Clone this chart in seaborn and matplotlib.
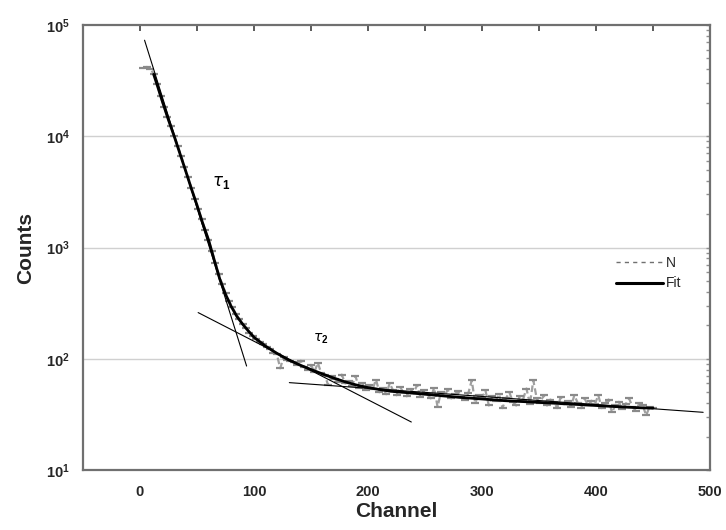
import numpy as np
import pandas as pd
import matplotlib
matplotlib.use("Agg")
import matplotlib.pyplot as plt
import seaborn as sns
from matplotlib.ticker import LogLocator, FixedLocator, NullFormatter
from matplotlib.lines import Line2D

# ---------------- data ----------------
data_channel = list(range(3, 451, 3))
data_counts = [
    41000, 42000, 40500, 36500, 29500, 23000, 18500, 15000, 12300, 10100,
    8200, 6700, 5300, 4300, 3450, 2750, 2200, 1800, 1450, 1180,
    930, 730, 580, 470, 390, 330, 290, 255, 228, 205,
    188, 172, 160, 150, 140, 136, 127, 122, 112, 110,
    82, 104, 98, 95, 93, 88, 96, 84, 80, 88,
    76, 92, 74, 72, 58, 70, 66, 62, 72, 60,
    63, 57, 70, 55, 60, 52, 58, 53, 65, 50,
    55, 48, 60, 52, 47, 56, 50, 46, 54, 49,
    58, 45, 52, 48, 44, 55, 37, 50, 46, 53,
    44, 48, 51, 45, 43, 49, 64, 40, 47, 44,
    52, 38, 46, 42, 48, 36, 44, 50, 41, 38,
    46, 43, 54, 39, 64, 44, 40, 47, 38, 43,
    41, 36, 45, 39, 42, 37, 47, 40, 36, 44,
    38, 42, 39, 47, 36, 40, 43, 33, 38, 41,
    35, 39, 44, 37, 34, 40, 38, 31, 37, 36,
]

fit_channel = [12, 15, 20, 25, 30, 35, 40, 45, 50, 55, 60, 65, 70, 75, 80, 85,
               90, 95, 100, 110, 120, 130, 140, 150, 160, 170, 180, 190, 200,
               220, 240, 260, 280, 300, 320, 340, 360, 380, 400, 420, 440, 450]
fit_counts = [36000, 29000, 20000, 14000, 10000, 7000, 4900, 3400, 2400, 1650,
              1180, 780, 520, 380, 295, 240, 205, 178, 156, 130, 112, 98, 88,
              80, 73, 67, 62, 58, 55, 51, 49, 47, 45, 43.5, 42, 41, 40, 39,
              38, 37, 36.2, 36]

tau1_channel = [4, 93.5]
tau1_counts = [73000, 86]
tau2_channel = [51, 238]
tau2_counts = [260, 27]
tau3_channel = [131, 494]
tau3_counts = [61, 33]

x_ticks = [0, 100, 200, 300, 400, 500]
x_label = "Channel"
y_label = "Counts"
legend_labels = ["N", "Fit"]

df_data = pd.DataFrame({"Channel": data_channel, "Counts": data_counts})
df_fit = pd.DataFrame({"Channel": fit_channel, "Counts": fit_counts})
df_t1 = pd.DataFrame({"Channel": tau1_channel, "Counts": tau1_counts})
df_t2 = pd.DataFrame({"Channel": tau2_channel, "Counts": tau2_counts})
df_t3 = pd.DataFrame({"Channel": tau3_channel, "Counts": tau3_counts})

# ---------------- figure ----------------
sns.set_style("white")
plt.rcParams["font.family"] = ["Liberation Sans", "DejaVu Sans"]
plt.rcParams["mathtext.fontset"] = "custom"
plt.rcParams["mathtext.rm"] = "Liberation Sans:bold"
plt.rcParams["mathtext.bf"] = "Liberation Sans:bold"

fig = plt.figure(figsize=(7.26, 5.30), dpi=100)
ax = fig.add_axes([83 / 726, 1 - 470 / 530, (710 - 83) / 726, (470 - 25) / 530])

ax.set_yscale("log")
ax.set_xlim(-50, 500)
ax.set_ylim(10, 1e5)

# horizontal grid
for g in [1e2, 1e3, 1e4]:
    ax.axhline(g, color="#d0d0d0", lw=1.0, zorder=0)

# data: gray dashed trace + dash markers
sns.lineplot(data=df_data, x="Channel", y="Counts", ax=ax, color="#a0a0a0",
             lw=1.6, linestyle=(0, (3, 1.5)), zorder=2)
sns.scatterplot(data=df_data, x="Channel", y="Counts", ax=ax, marker="_",
                s=34, color="#8a8a8a", linewidth=1.6, zorder=2)

# component lines
for d in (df_t1, df_t2, df_t3):
    sns.lineplot(data=d, x="Channel", y="Counts", ax=ax, color="black",
                 lw=0.8, zorder=3)

# fit
sns.lineplot(data=df_fit, x="Channel", y="Counts", ax=ax, color="black",
             lw=2.0, zorder=4)

# annotations
ax.text(63, 3800, r"$\tau_{1}$", fontsize=12, color="black",
        ha="left", va="center", family="DejaVu Serif")
ax.text(152, 150, r"$\tau_{2}$", fontsize=10, color="black",
        ha="left", va="center", family="DejaVu Serif")

# axes styling
for s in ax.spines.values():
    s.set_color("#707070")
    s.set_linewidth(1.6)

ax.xaxis.set_major_locator(FixedLocator(x_ticks))
ax.xaxis.set_minor_locator(FixedLocator([-50, 50, 150, 250, 350, 450]))
ax.yaxis.set_major_locator(LogLocator(base=10, numticks=10))
ax.yaxis.set_minor_locator(LogLocator(base=10, subs=np.arange(2, 10), numticks=20))
ax.yaxis.set_minor_formatter(NullFormatter())

ax.tick_params(axis="x", which="both", direction="out", length=5, width=1.5,
               color="#404040", labelsize=10.5, pad=6)
ax.tick_params(axis="y", which="major", direction="out", length=6, width=1.5,
               color="#404040", labelsize=10.5)
ax.tick_params(axis="y", which="minor", direction="out", length=4, width=1.5,
               color="#404040")
for lab in ax.get_xticklabels():
    lab.set_fontweight("bold")

ax.yaxis.set_major_formatter(plt.FuncFormatter(
    lambda v, p: r"$\mathbf{10^{%d}}$" % int(round(np.log10(v)))))

# top and right axes with inward ticks
secx = ax.secondary_xaxis("top")
secx.set_xticks([-50, 0, 50, 100, 150, 200, 250, 300, 350, 400, 450, 500])
secx.tick_params(direction="in", length=4, width=1.2, color="#404040",
                 labeltop=False)
secx.spines["top"].set_visible(False)
secy = ax.secondary_yaxis("right")
secy.yaxis.set_major_locator(LogLocator(base=10, numticks=10))
secy.yaxis.set_minor_locator(LogLocator(base=10, subs=np.arange(2, 10), numticks=20))
secy.tick_params(which="both", direction="in", length=3, width=1.0,
                 color="#909090", labelright=False)
secy.spines["right"].set_visible(False)

ax.set_xlabel(x_label, fontsize=15, fontweight="bold", labelpad=2)
ax.set_ylabel(y_label, fontsize=15, fontweight="bold", labelpad=8)

# legend
handles = [Line2D([], [], color="#707070", lw=1.0, linestyle=(0, (3, 3))),
           Line2D([], [], color="black", lw=2.2)]
leg = ax.legend(handles, legend_labels, loc="upper left",
                bbox_to_anchor=(0.83, 0.51), frameon=False, fontsize=10,
                handlelength=3.4, handletextpad=0.2, labelspacing=0.5)

fig.savefig("out.png", dpi=100, facecolor="white")
